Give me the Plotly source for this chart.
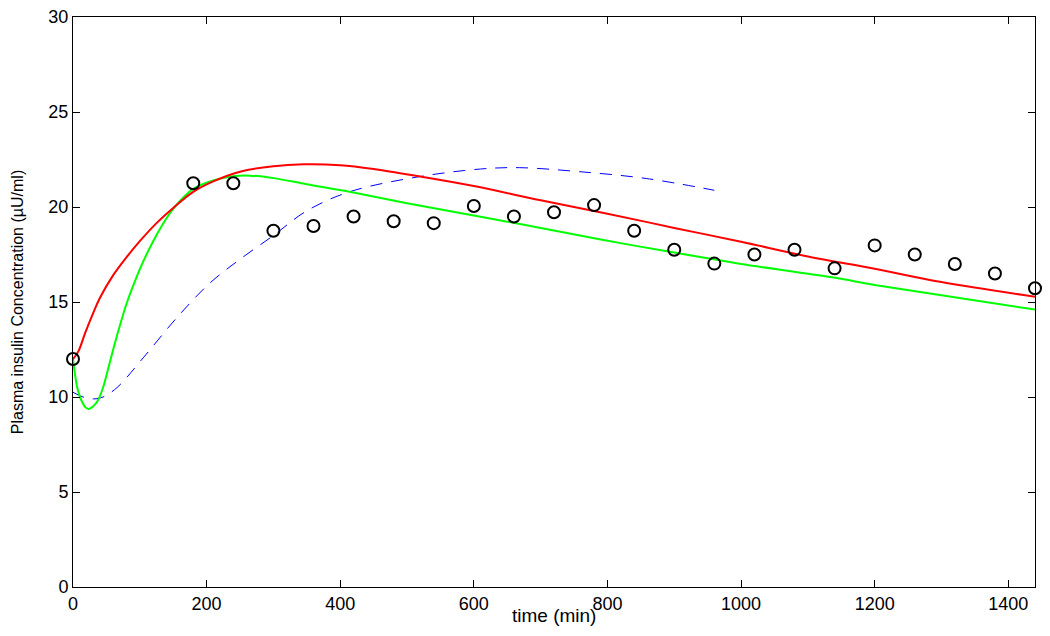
import plotly.graph_objects as go

# Observed data (circles)
obs_t = [0, 180, 240, 300, 360, 420, 480, 540, 600, 660, 720, 780, 840, 900,
         960, 1020, 1080, 1140, 1200, 1260, 1320, 1380, 1440]
obs_y = [12.0, 21.25, 21.25, 18.75, 19.0, 19.5, 19.25, 19.15, 20.05, 19.5, 19.72, 20.1,
         18.75, 17.75, 17.02, 17.5, 17.75, 16.77, 17.98, 17.5, 17.0, 16.5, 15.72]

# Red model curve
red_t = [0, 8, 18, 30, 40, 60, 80, 100, 125, 150, 180, 210, 250, 300, 345, 400, 450,
         520, 600, 700, 800, 900, 1000, 1100, 1200, 1300, 1440]
red_y = [12.0, 12.4, 13.35, 14.4, 15.2, 16.4, 17.35, 18.2, 19.15, 19.95, 20.8, 21.35,
         21.86, 22.15, 22.25, 22.2, 22.0, 21.6, 21.1, 20.35, 19.65, 18.9, 18.17, 17.4,
         16.75, 16.05, 15.28]

# Green model curve
green_t = [0, 3, 6, 10, 14, 19, 24, 30, 37, 45, 56, 68, 81, 95, 106, 120, 131, 150, 180,
           210, 240, 265, 300, 350, 414, 500, 608, 700, 788, 900, 957, 1000, 1136, 1200,
           1300, 1440]
green_y = [12.0, 11.2, 10.55, 10.05, 9.72, 9.45, 9.37, 9.5, 9.8, 10.5, 11.95, 13.5, 15.0,
           16.3, 17.2, 18.2, 18.9, 19.9, 20.95, 21.4, 21.62, 21.65, 21.52, 21.2, 20.8,
           20.2, 19.5, 18.9, 18.3, 17.6, 17.26, 17.0, 16.3, 15.9, 15.35, 14.6]

# Blue dashed model curve
blue_t = [0, 15, 31, 45, 66, 106, 156, 205, 250, 300, 350, 414, 519, 610, 668, 758, 858, 960]
blue_y = [10.25, 10.0, 9.9, 10.0, 10.5, 12.1, 14.2, 16.0, 17.25, 18.5, 19.8, 20.8, 21.6,
          22.0, 22.07, 21.86, 21.5, 20.88]

x_ticks = [0, 200, 400, 600, 800, 1000, 1200, 1400]
y_ticks = [0, 5, 10, 15, 20, 25, 30]

x_title = "time (min)"
y_title = "Plasma insulin Concentration (µU/ml)"

FONT = "Liberation Sans, Arial, Helvetica, sans-serif"

fig = go.Figure()
fig.add_trace(go.Scatter(x=blue_t, y=blue_y, mode="lines", line_shape="spline",
                         line=dict(color="#0000ff", width=1, dash="12px,9px")))
fig.add_trace(go.Scatter(x=green_t, y=green_y, mode="lines", line_shape="spline",
                         line=dict(color="#00ff00", width=2)))
fig.add_trace(go.Scatter(x=red_t, y=red_y, mode="lines", line_shape="spline",
                         line=dict(color="#ff0000", width=2)))
fig.add_trace(go.Scatter(x=obs_t, y=obs_y, mode="markers", cliponaxis=False,
                         marker=dict(symbol="circle-open", size=12, color="black",
                                     line=dict(color="black", width=2))))

# page body has an 8px default margin, so the figure is sized to fit the window
fig.update_layout(
    width=1042, height=628,
    paper_bgcolor="white", plot_bgcolor="white",
    showlegend=False,
    margin=dict(l=65, r=15, t=9, b=49, autoexpand=False),
    font=dict(family=FONT, size=16, color="black"),
    annotations=[dict(text=x_title, xref="paper", yref="paper", x=0.5, y=0,
                      xanchor="center", yanchor="top", yshift=-16, showarrow=False,
                      font=dict(family=FONT, size=19, color="black"))],
)
fig.update_xaxes(
    range=[0, 1440], tickvals=x_ticks, ticktext=[str(v) for v in x_ticks],
    ticks="inside", ticklen=7, tickcolor="black", tickwidth=1,
    showline=True, linecolor="black", linewidth=1, mirror="ticks",
    showgrid=False, zeroline=False, automargin=False, ticklabeloverflow="allow",
    tickfont=dict(family=FONT, size=18, color="black"),
)
fig.update_yaxes(
    range=[0, 30], tickvals=y_ticks, ticktext=[str(v) for v in y_ticks],
    ticks="inside", ticklen=7, tickcolor="black", tickwidth=1,
    showline=True, linecolor="black", linewidth=1, mirror="ticks",
    showgrid=False, zeroline=False, automargin=False, ticklabeloverflow="allow",
    tickfont=dict(family=FONT, size=18, color="black"),
    title=dict(text=y_title, standoff=20,
               font=dict(family=FONT, size=16, color="black")),
)

fig.write_html("out.html")
